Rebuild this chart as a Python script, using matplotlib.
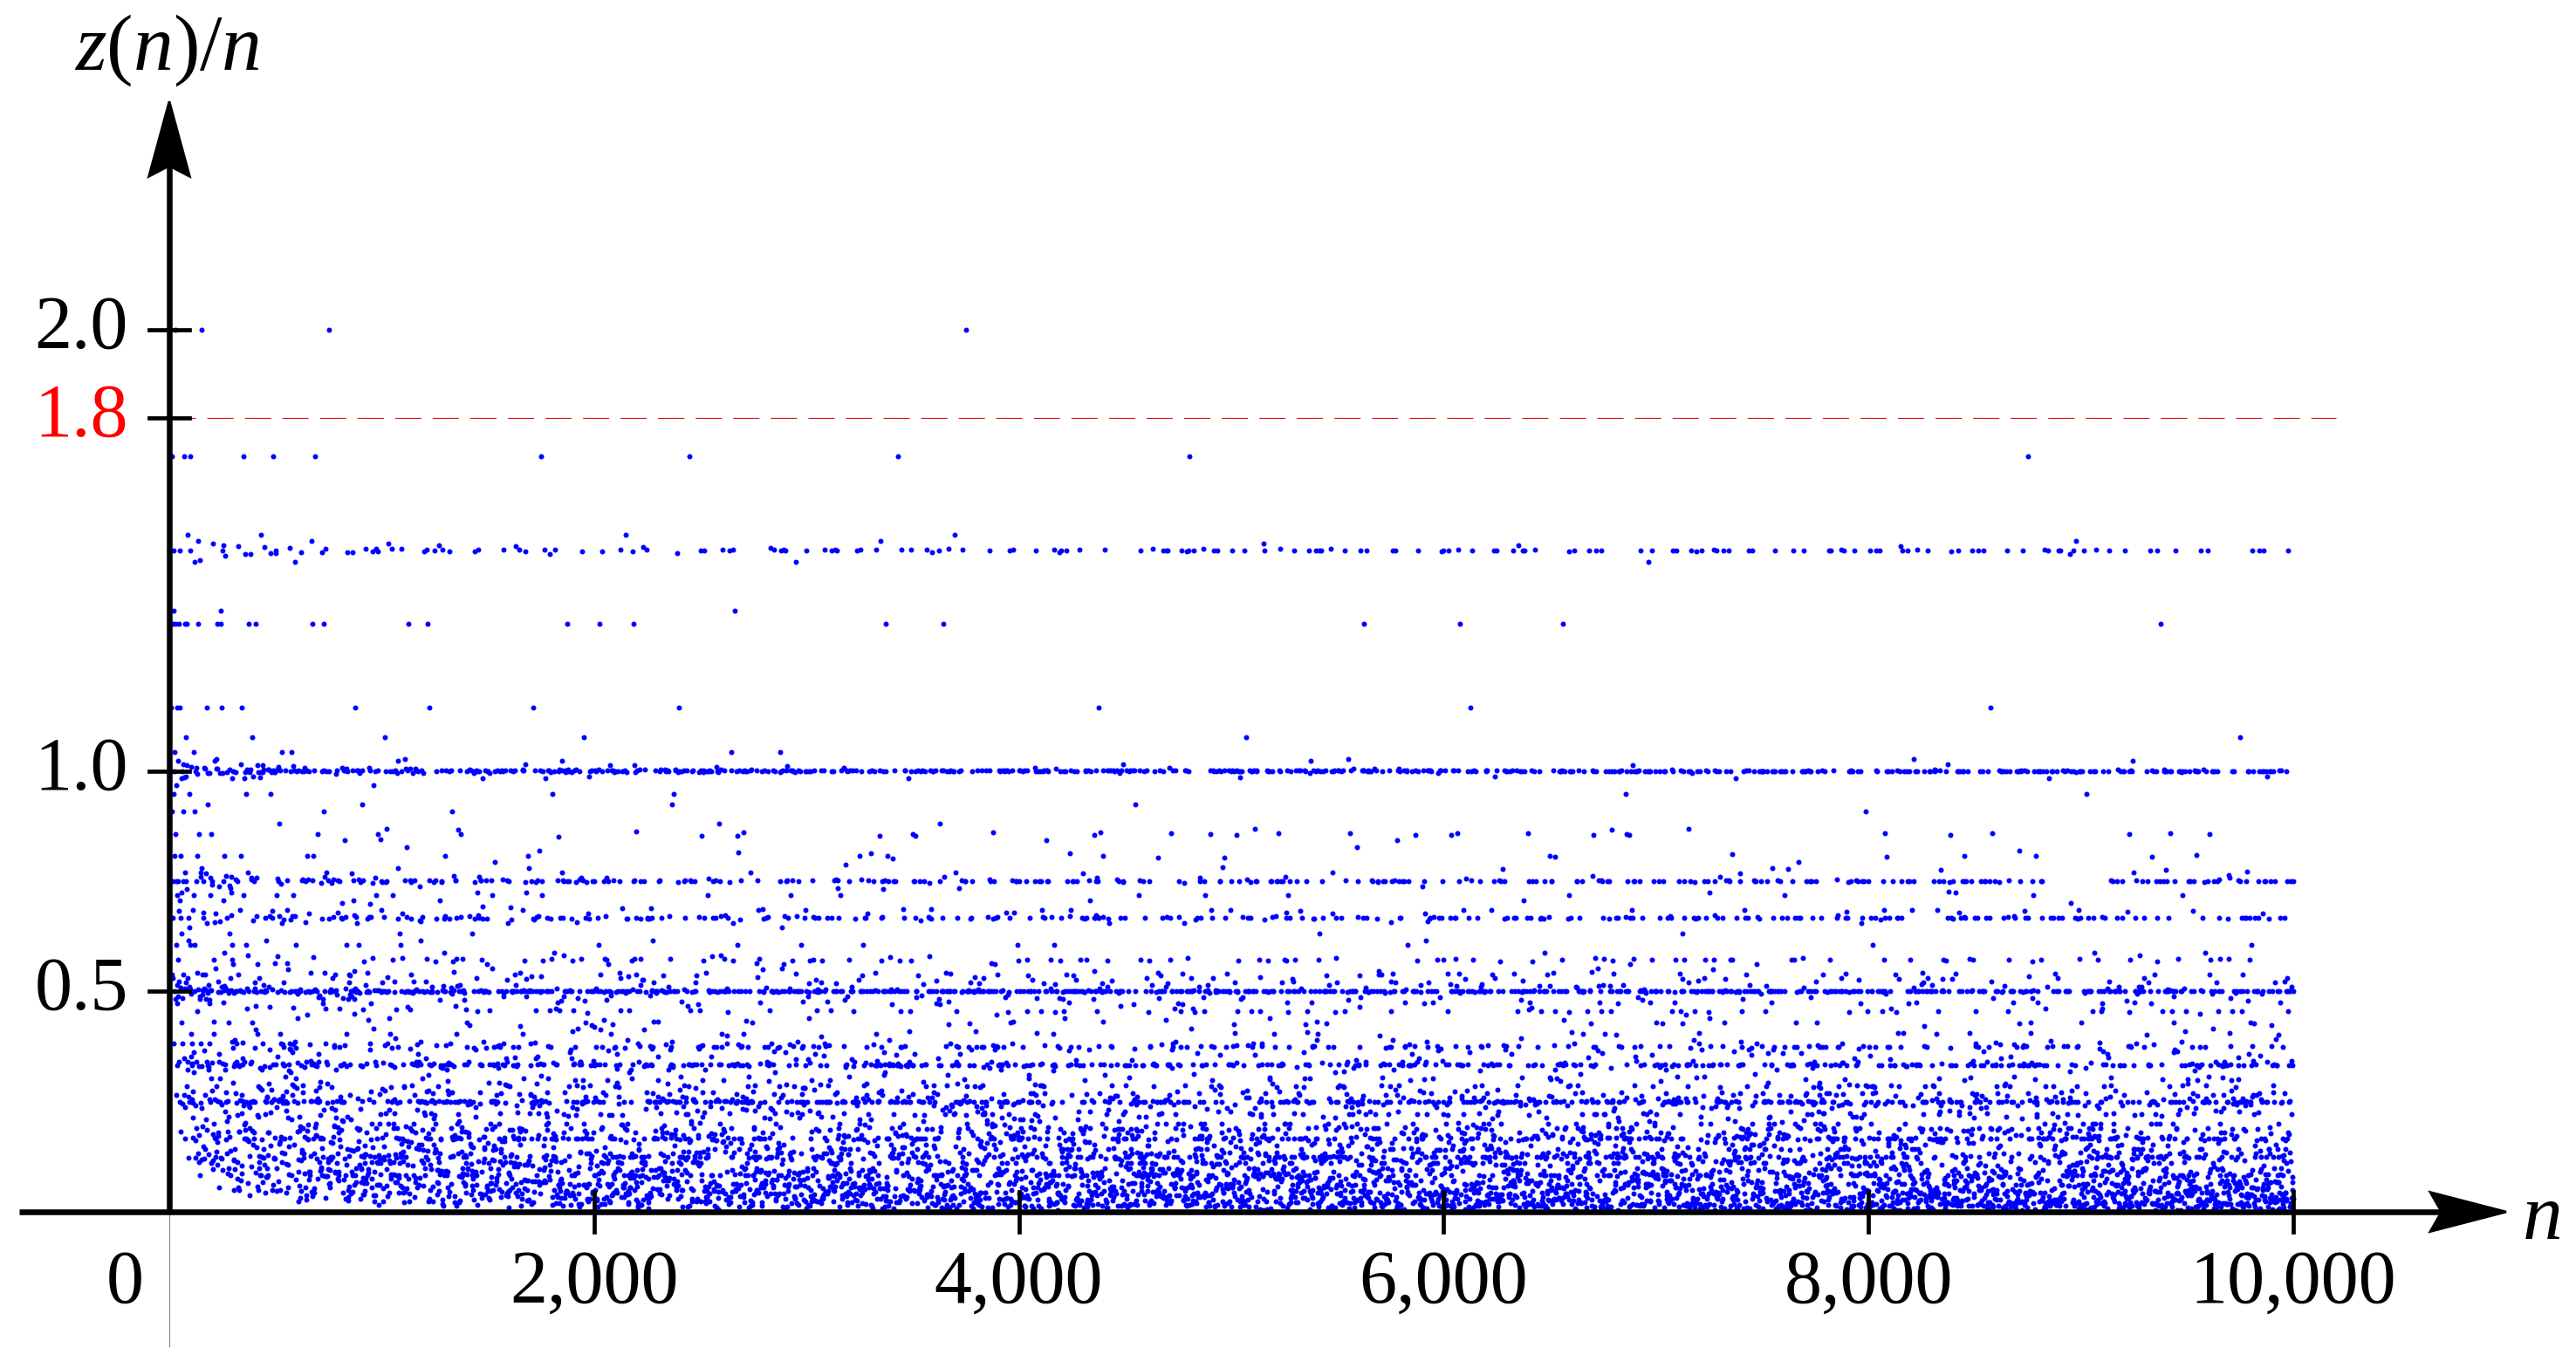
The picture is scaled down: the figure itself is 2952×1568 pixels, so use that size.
import numpy as np
import matplotlib
matplotlib.use("Agg")
import matplotlib.pyplot as plt
from matplotlib.patches import Polygon

plt.rcParams['font.family'] = ['Liberation Serif', 'DejaVu Serif']
plt.rcParams['mathtext.fontset'] = 'custom'
plt.rcParams['mathtext.rm'] = 'Liberation Serif'
plt.rcParams['mathtext.it'] = 'Liberation Serif:italic'
plt.rcParams['lines.scale_dashes'] = False

# data: n = 1..N_MAX, ratio z(n)/n where z(n) is the Fibonacci entry point
N_MAX = 10000
y_ticks = [0.5, 1.0, 1.8, 2.0]
y_tick_labels = ["0.5", "1.0", "1.8", "2.0"]
y_tick_colors = ["black", "black", "red", "black"]
x_ticks = [2000, 4000, 6000, 8000, 10000]
x_tick_labels = ["2,000", "4,000", "6,000", "8,000", "10,000"]
bound_value = 1.8

n = np.arange(1, N_MAX + 1)
fa = np.zeros(N_MAX, dtype=np.int64)
fb = np.ones(N_MAX, dtype=np.int64) % n
z = np.zeros(N_MAX, dtype=np.int64)
k = 1
while (z == 0).any():
    hit = (fb == 0) & (z == 0)
    z[hit] = k
    fa, fb = fb, (fa + fb) % n
    k += 1
ratio = z / n

# figure: axes fill the canvas, limits chosen so data maps to reference pixels
fig = plt.figure(figsize=(14.76, 7.84), dpi=200)
ax = fig.add_axes([0, 0, 1, 1])
ax.set_xlim(-797, 11331)
ax.set_ylim(-0.354, 2.748)
ax.axis('off')

ax.scatter(n, ratio, s=4.6, color='#0000ff', linewidths=0, zorder=2)

# dashed bound
ax.plot([0, 10201], [bound_value, bound_value], color='#e00000', lw=0.38,
        dashes=(10.8, 4.7), zorder=1)

# axes lines
lw = 2.35
ax.plot([-707, 10690], [0, 0], color='black', lw=lw, solid_capstyle='butt', zorder=3)
ax.plot([0, 0], [0, 2.37], color='black', lw=lw, solid_capstyle='butt', zorder=3)
ax.plot([0, 0], [0, -0.305], color='#888888', lw=0.4, zorder=1)

# arrow heads
ax.add_patch(Polygon([[11002, 0], [10645, 0.0445], [10698, 0], [10645, -0.0445]],
                     closed=True, color='black', zorder=4))
ax.add_patch(Polygon([[0, 2.518], [-96, 2.348], [0, 2.372], [96, 2.348]],
                     closed=True, color='black', zorder=4))

# ticks
tw = 1.7
for xt in x_ticks:
    ax.plot([xt, xt], [-0.0455, 0.0455], color='black', lw=tw, zorder=3)
for yt in y_ticks:
    ax.plot([-94, 94], [yt, yt], color='black', lw=tw, zorder=3)

fs = 31
for xt, lab in zip(x_ticks, x_tick_labels):
    ax.text(xt, -0.085, lab, ha='center', va='top', fontsize=fs)
ax.text(-210, -0.085, "0", ha='center', va='top', fontsize=fs)
for yt, lab, c in zip(y_ticks, y_tick_labels, y_tick_colors):
    ax.text(-193, yt, lab, ha='right', va='center', fontsize=fs, color=c)

ax.text(11175, -0.061, "n", ha='center', va='baseline', fontsize=33, style='italic')
ax.text(-10, 2.59, r"$z(n)/n$", ha='center', va='baseline', fontsize=33)

fig.savefig("out.png", dpi=200)
